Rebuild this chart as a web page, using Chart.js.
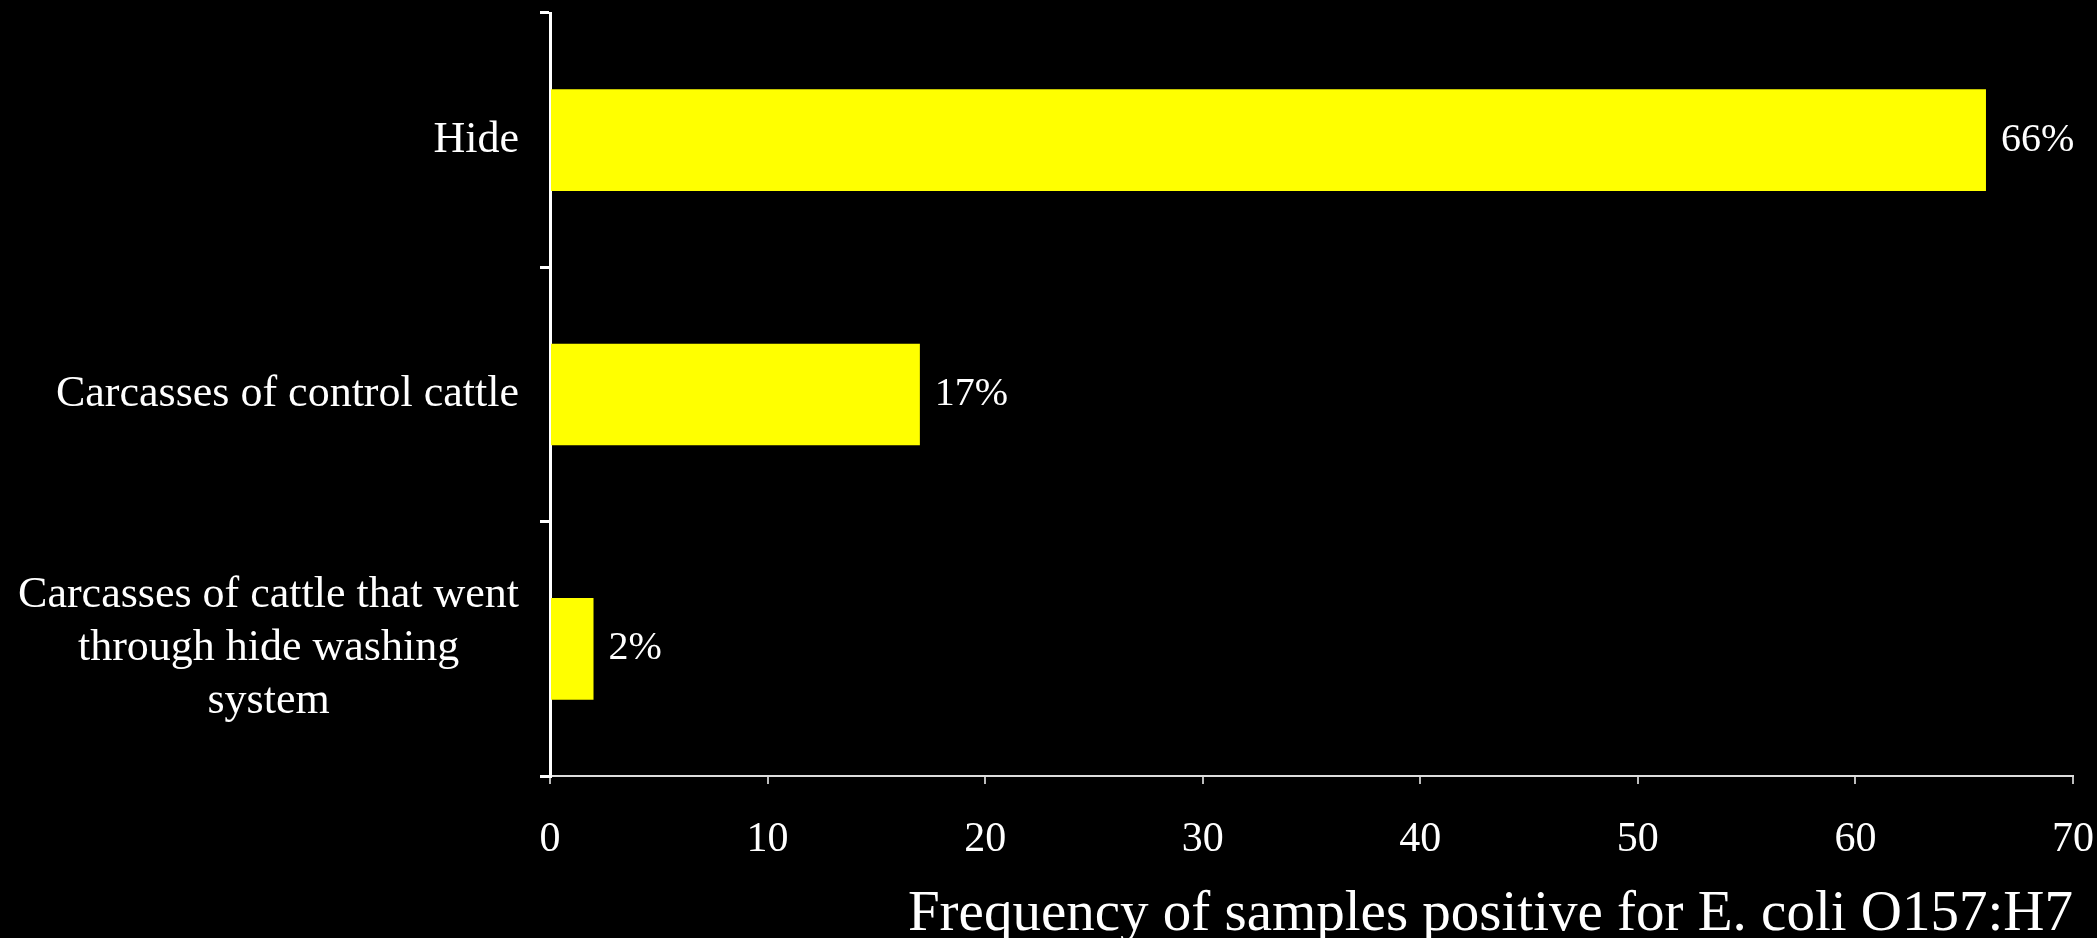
<!DOCTYPE html>
<html>
<head>
<meta charset="utf-8">
<script src="https://cdn.jsdelivr.net/npm/chart.js@4/dist/chart.umd.min.js"></script>
<style>
  html, body { margin: 0; padding: 0; background: #000; }
  #wrap { width: 2097px; height: 938px; position: relative; background: #000; }
</style>
</head>
<body>
<div id="wrap"><canvas id="grafico"></canvas></div>
<script>
// categorias y valores
const categorias = [
  ['Hide'],
  ['Carcasses of control cattle'],
  ['Carcasses of cattle that went', 'through hide washing', 'system']
];
const frecuencias = [66, 17, 2];
const ticksX = [0, 10, 20, 30, 40, 50, 60, 70];
const tituloX = 'Frequency of samples positive for E. coli O157:H7';

const fuente = "'Liberation Serif', 'DejaVu Serif', serif";
Chart.defaults.color = '#ffffff';
Chart.defaults.font.family = fuente;

// etiquetas de categoria (bloque alineado a la derecha, lineas centradas)
const etiquetasY = {
  id: 'etiquetasY',
  afterDraw(chart) {
    const ctx = chart.ctx;
    const y = chart.scales.y;
    const derecha = y.right - 31;
    const alto = 53;
    ctx.save();
    ctx.font = '44px ' + fuente;
    ctx.fillStyle = '#ffffff';
    ctx.textAlign = 'center';
    ctx.textBaseline = 'middle';
    chart.data.labels.forEach((lineas, i) => {
      const cy = y.getPixelForTick(i);
      const ancho = Math.max(...lineas.map(l => ctx.measureText(l).width));
      const cx = derecha - ancho / 2;
      const y0 = cy - (lineas.length - 1) * alto / 2;
      lineas.forEach((l, k) => ctx.fillText(l, cx, y0 + k * alto));
    });
    ctx.restore();
  }
};

// valores al final de cada barra
const valores = {
  id: 'valores',
  afterDatasetsDraw(chart) {
    const ctx = chart.ctx;
    const meta = chart.getDatasetMeta(0);
    ctx.save();
    ctx.font = '40px ' + fuente;
    ctx.fillStyle = '#ffffff';
    ctx.textAlign = 'left';
    ctx.textBaseline = 'middle';
    meta.data.forEach((barra, i) => {
      ctx.fillText(frecuencias[i] + '%', barra.x + 15, barra.y);
    });
    ctx.restore();
  }
};

new Chart(document.getElementById('grafico'), {
  type: 'bar',
  data: {
    labels: categorias,
    datasets: [{
      data: frecuencias,
      backgroundColor: '#ffff00',
      borderWidth: 0,
      barPercentage: 0.4,
      categoryPercentage: 1
    }]
  },
  options: {
    indexAxis: 'y',
    responsive: true,
    maintainAspectRatio: false,
    animation: false,
    layout: { padding: { top: 13, right: 0, left: 0, bottom: 0 } },
    plugins: {
      legend: { display: false },
      tooltip: { enabled: false }
    },
    scales: {
      x: {
        min: 0,
        max: 70,
        afterBuildTicks: (s) => { s.ticks = ticksX.map(v => ({ value: v })); },
        afterFit: (s) => {
          s.height = 162;
          s.paddingRight = 24;
          s.paddingLeft = 0;
        },
        border: { color: '#dddddd', width: 2 },
        grid: { drawOnChartArea: false, drawTicks: true, tickLength: 8, color: '#bbbbbb', lineWidth: 2 },
        ticks: { font: { size: 42 }, padding: 31, color: '#ffffff' },
        title: {
          display: true,
          text: tituloX,
          align: 'end',
          color: '#ffffff',
          font: { size: 57, lineHeight: 0.8 },
          padding: { top: 0, bottom: 0 }
        }
      },
      y: {
        afterFit: (s) => { s.width = 550; },
        border: { color: '#ffffff', width: 3 },
        grid: { drawOnChartArea: false, drawTicks: true, tickLength: 10, color: '#ffffff', lineWidth: 3 },
        ticks: { display: false }
      }
    }
  },
  plugins: [etiquetasY, valores]
});
</script>
</body>
</html>
